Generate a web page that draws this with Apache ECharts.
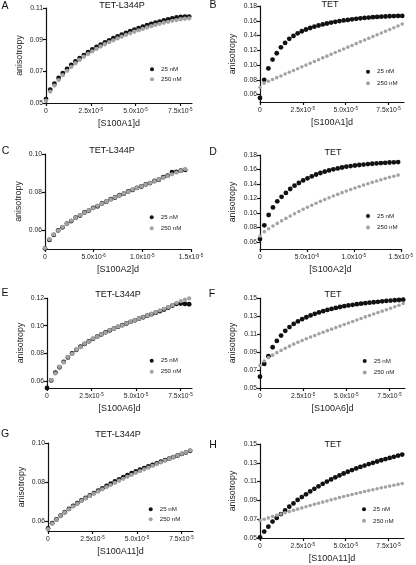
<!DOCTYPE html>
<html><head><meta charset="utf-8">
<script src="https://cdn.jsdelivr.net/npm/echarts@6/dist/echarts.min.js"></script>
<style>html,body{margin:0;padding:0;background:#fff}#c{width:416px;height:565px}</style>
</head><body><div id="c"></div>
<script>
// ---------- DATA (x in units of 1e-5 M) ----------
const xLeft = [0,0.235,0.47,0.705,0.94,1.175,1.41,1.645,1.88,2.115,2.35,2.585,2.82,3.055,3.29,3.525,3.76,3.995,4.23,4.465,4.7,4.935,5.17,5.405,5.64,5.875,6.11,6.345,6.58,6.815,7.05,7.285,7.52,7.755,7.99];
const xRight = [0,0.244,0.488,0.732,0.976,1.22,1.464,1.708,1.952,2.196,2.44,2.684,2.928,3.172,3.416,3.66,3.904,4.148,4.392,4.636,4.88,5.124,5.368,5.612,5.856,6.1,6.344,6.588,6.832,7.076,7.32,7.564,7.808,8.052,8.296];
const xC = [0,0.045,0.09,0.135,0.18,0.225,0.27,0.315,0.36,0.405,0.45,0.495,0.54,0.585,0.63,0.675,0.72,0.765,0.81,0.855,0.9,0.945,0.99,1.035,1.08,1.125,1.17,1.215,1.26,1.305,1.35,1.395,1.44];
const xD = [0,0.046,0.092,0.138,0.184,0.23,0.276,0.322,0.368,0.414,0.46,0.506,0.552,0.598,0.644,0.69,0.736,0.782,0.828,0.874,0.92,0.966,1.012,1.058,1.104,1.15,1.196,1.242,1.288,1.334,1.38,1.426,1.472];

const a25 = [0.0525,0.0585,0.0622,0.0658,0.0688,0.0715,0.0740,0.0763,0.0784,0.0803,0.0821,0.0838,0.0854,0.0869,0.0883,0.0896,0.0909,0.0921,0.0932,0.0943,0.0954,0.0964,0.0973,0.0982,0.0991,0.0999,0.1007,0.1014,0.1021,0.1028,0.1034,0.1040,0.1044,0.1046,0.1046];
const a250 = [0.0515,0.0572,0.0610,0.0645,0.0676,0.0703,0.0728,0.0751,0.0772,0.0792,0.0810,0.0826,0.0842,0.0857,0.0871,0.0884,0.0896,0.0908,0.0919,0.0930,0.0940,0.0950,0.0959,0.0968,0.0977,0.0985,0.0993,0.1000,0.1007,0.1013,0.1019,0.1024,0.1029,0.1032,0.1034];
const b25 = [0.0555,0.0800,0.0955,0.1075,0.1160,0.1240,0.1300,0.1355,0.1395,0.1430,0.1458,0.1482,0.1502,0.1520,0.1536,0.1550,0.1563,0.1575,0.1586,0.1596,0.1605,0.1612,0.1620,0.1627,0.1633,0.1638,0.1643,0.1648,0.1652,0.1655,0.1658,0.1661,0.1663,0.1665,0.1666];
const b250 = [0.0700,0.0755,0.0781,0.0804,0.0830,0.0853,0.0879,0.0902,0.0927,0.0951,0.0976,0.1000,0.1024,0.1049,0.1073,0.1098,0.1121,0.1146,0.1170,0.1194,0.1218,0.1243,0.1266,0.1291,0.1315,0.1339,0.1363,0.1387,0.1411,0.1434,0.1458,0.1482,0.1506,0.1530,0.1555];
const c25 = [0.0503,0.0548,0.0574,0.0598,0.0614,0.0634,0.0647,0.0665,0.0676,0.0692,0.0702,0.0716,0.0725,0.0740,0.0749,0.0762,0.0771,0.0783,0.0791,0.0803,0.0811,0.0822,0.0829,0.0840,0.0847,0.0858,0.0865,0.0878,0.0886,0.0905,0.0906,0.0912,0.0916];
const c250 = [0.0505,0.0551,0.0576,0.0597,0.0616,0.0633,0.0649,0.0664,0.0678,0.0691,0.0703,0.0715,0.0727,0.0739,0.0750,0.0761,0.0772,0.0782,0.0792,0.0802,0.0812,0.0821,0.0830,0.0839,0.0848,0.0857,0.0866,0.0875,0.0884,0.0893,0.0902,0.0911,0.0920];
const d25 = [0.0637,0.0828,0.0970,0.1075,0.1160,0.1222,0.1276,0.1330,0.1376,0.1413,0.1448,0.1478,0.1505,0.1530,0.1551,0.1570,0.1587,0.1602,0.1615,0.1627,0.1638,0.1647,0.1655,0.1662,0.1668,0.1674,0.1679,0.1684,0.1688,0.1692,0.1696,0.1699,0.1702];
const d250 = [0.0680,0.0740,0.0780,0.0818,0.0854,0.0889,0.0923,0.0956,0.0988,0.1019,0.1049,0.1078,0.1106,0.1133,0.1159,0.1184,0.1209,0.1233,0.1256,0.1279,0.1301,0.1323,0.1344,0.1364,0.1384,0.1403,0.1422,0.1440,0.1458,0.1475,0.1492,0.1507,0.1522];
const e25 = [0.0550,0.0605,0.0660,0.0700,0.0739,0.0771,0.0800,0.0825,0.0848,0.0868,0.0887,0.0905,0.0921,0.0937,0.0952,0.0966,0.0979,0.0992,0.1004,0.1016,0.1028,0.1039,0.1050,0.1061,0.1072,0.1083,0.1094,0.1105,0.1117,0.1130,0.1145,0.1158,0.1160,0.1157,0.1155];
const e250 = [0.0548,0.0607,0.0655,0.0702,0.0735,0.0773,0.0797,0.0827,0.0845,0.0870,0.0885,0.0907,0.0919,0.0939,0.0950,0.0968,0.0978,0.0993,0.1003,0.1017,0.1027,0.1040,0.1050,0.1062,0.1073,0.1085,0.1097,0.1110,0.1122,0.1134,0.1148,0.1165,0.1178,0.1188,0.1197];
const f25 = [0.0626,0.0767,0.0854,0.0953,0.1023,0.1082,0.1135,0.1177,0.1212,0.1240,0.1265,0.1286,0.1306,0.1324,0.1340,0.1354,0.1367,0.1379,0.1390,0.1400,0.1409,0.1417,0.1424,0.1431,0.1437,0.1443,0.1448,0.1453,0.1458,0.1463,0.1467,0.1471,0.1475,0.1478,0.1481];
const f250 = [0.0750,0.0800,0.0837,0.0865,0.0893,0.0918,0.0942,0.0965,0.0987,0.1008,0.1028,0.1047,0.1066,0.1084,0.1102,0.1120,0.1137,0.1154,0.1171,0.1188,0.1205,0.1222,0.1239,0.1256,0.1273,0.1290,0.1306,0.1322,0.1338,0.1354,0.1370,0.1386,0.1402,0.1420,0.1440];
const g25 = [0.0563,0.0590,0.0609,0.0628,0.0646,0.0663,0.0678,0.0692,0.0706,0.0719,0.0732,0.0744,0.0756,0.0768,0.0780,0.0792,0.0803,0.0814,0.0825,0.0836,0.0846,0.0855,0.0864,0.0872,0.0880,0.0888,0.0896,0.0904,0.0912,0.0920,0.0928,0.0936,0.0944,0.0952,0.0960];
const g250 = [0.0560,0.0588,0.0608,0.0627,0.0645,0.0661,0.0676,0.0690,0.0704,0.0717,0.0729,0.0741,0.0752,0.0763,0.0774,0.0785,0.0796,0.0807,0.0817,0.0827,0.0837,0.0847,0.0856,0.0865,0.0874,0.0883,0.0892,0.0901,0.0910,0.0919,0.0928,0.0937,0.0945,0.0953,0.0962];
const h25 = [0.0507,0.0568,0.0621,0.0675,0.0714,0.0754,0.0793,0.0833,0.0868,0.0905,0.0935,0.0965,0.0995,0.1023,0.1050,0.1076,0.1100,0.1123,0.1145,0.1166,0.1186,0.1205,0.1223,0.1240,0.1256,0.1271,0.1286,0.1300,0.1314,0.1327,0.1340,0.1352,0.1364,0.1376,0.1388];
const h250 = [0.0686,0.0700,0.0714,0.0728,0.0742,0.0755,0.0768,0.0781,0.0794,0.0807,0.0820,0.0833,0.0846,0.0858,0.0870,0.0882,0.0894,0.0906,0.0918,0.0930,0.0941,0.0952,0.0963,0.0974,0.0984,0.0994,0.1004,0.1014,0.1024,0.1034,0.1043,0.1052,0.1061,0.1070,0.1079];

// tick values and labels
const xTicksLong = [0, 2.5, 5, 7.5];
const xLabelsLong = ['0', '2.5x10|-5', '5.0x10|-5', '7.5x10|-5'];
const xTicksShort = [0, 0.5, 1.0, 1.5];
const xLabelsShort = ['0', '5.0x10|-6', '1.0x10|-5', '1.5x10|-5'];
const yTicksA = [0.05, 0.07, 0.09, 0.11];
const yTicksBD = [0.06, 0.08, 0.10, 0.12, 0.14, 0.16, 0.18];
const yTicksC = [0.06, 0.08, 0.10];
const yTicksE = [0.06, 0.08, 0.10, 0.12];
const yTicksFH = [0.05, 0.07, 0.09, 0.11, 0.13, 0.15];
const yTicksG = [0.06, 0.08, 0.10];
const seriesNames = ['25 nM', '250 nM'];

// ---------- LAYOUT ----------
const FONT = '"Liberation Sans", Arial, Helvetica, sans-serif';
const panels = [
  {L:'A', T:'TET-L344P', xn:'[S100A1]d', x:xLeft, s:[a25,a250], g:{left:46,top:8,width:146,height:95}, y:[0.05,0.11], yt:yTicksA, xm:8.15, xt:xTicksLong, xl:xLabelsLong, lp:[5,6], tp:[122,6], leg:[150,65.3,2], right:false},
  {L:'B', T:'TET', xn:'[S100A1]d', x:xRight, s:[b25,b250], g:{left:260,top:6,width:144,height:96}, y:[0.05,0.18], yt:yTicksBD, xm:8.4, xt:xTicksLong, xl:xLabelsLong, lp:[213,5.5], tp:[330,5], leg:[366,67.7,3.5], right:true},
  {L:'C', T:'TET-L344P', xn:'[S100A2]d', x:xC, s:[c25,c250], g:{left:45,top:154,width:146,height:95}, y:[0.05,0.10], yt:yTicksC, xm:1.5, xt:xTicksShort, xl:xLabelsShort, lp:[5.5,151], tp:[112,151], leg:[149.7,213.3,3], right:false},
  {L:'D', T:'TET', xn:'[S100A2]d', x:xD, s:[d25,d250], g:{left:260,top:155,width:144,height:94}, y:[0.05,0.18], yt:yTicksBD, xm:1.5, xt:xTicksShort, xl:xLabelsShort, lp:[213,152], tp:[333,153], leg:[366,212,3.5], right:true},
  {L:'E', T:'TET-L344P', xn:'[S100A6]d', x:xLeft, s:[e25,e250], g:{left:47,top:298,width:145,height:90}, y:[0.055,0.12], yt:yTicksE, xm:8.15, xt:xTicksLong, xl:xLabelsLong, lp:[5,293], tp:[118,295], leg:[149.7,356.7,3], right:false},
  {L:'F', T:'TET', xn:'[S100A6]d', x:xRight, s:[f25,f250], g:{left:260,top:298,width:145,height:90}, y:[0.05,0.15], yt:yTicksFH, xm:8.4, xt:xTicksLong, xl:xLabelsLong, lp:[212,294], tp:[333,295], leg:[362.7,357,3.5], right:true},
  {L:'G', T:'TET-L344P', xn:'[S100A11]d', x:xLeft, s:[g25,g250], g:{left:48,top:443,width:145,height:88}, y:[0.055,0.10], yt:yTicksG, xm:8.15, xt:xTicksLong, xl:xLabelsLong, lp:[5,434], tp:[118,435], leg:[148.7,505.3,2], right:false},
  {L:'H', T:'TET', xn:'[S100A11]d', x:xRight, s:[h25,h250], g:{left:260,top:444,width:144,height:94}, y:[0.05,0.15], yt:yTicksFH, xm:8.4, xt:xTicksLong, xl:xLabelsLong, lp:[213,445], tp:[333,445], leg:[362,505.3,3.5], right:true}
];

const axisLine = {show:true, onZero:false, lineStyle:{color:'#111', width:1.2}};
const grid = [], xAxis = [], yAxis = [], series = [], legend = [], graphic = [];

panels.forEach((p, i) => {
  grid.push(Object.assign({containLabel:false}, p.g));
  xAxis.push({
    type:'value', gridIndex:i, min:0, max:p.xm,
    name:p.xn, nameLocation:'middle', nameGap:16,
    nameTextStyle:{fontFamily:FONT, fontSize:9, color:'#222'},
    axisLine, splitLine:{show:false},
    axisTick:{show:true, customValues:p.xt, length:3, lineStyle:{color:'#111', width:1.2}},
    axisLabel:{
      customValues:p.xt, margin:4, fontFamily:FONT, color:'#222',
      formatter:(v) => {
        let k = p.xt.findIndex(t => Math.abs(t - v) < 1e-9);
        let s = k >= 0 ? p.xl[k] : '';
        let parts = s.split('|');
        return parts.length > 1 ? '{m|' + parts[0] + '}{s|' + parts[1] + '}' : '{m|' + parts[0] + '}';
      },
      rich:{
        m:{fontFamily:FONT, fontSize:6.8, color:'#222', lineHeight:8},
        s:{fontFamily:FONT, fontSize:4.6, color:'#222', lineHeight:5, verticalAlign:'top'}
      }
    }
  });
  yAxis.push({
    type:'value', gridIndex:i, min:p.y[0], max:p.y[1],
    name:'anisotropy', nameLocation:'middle', nameGap: p.right ? 23 : 21.5, nameRotate:90,
    nameTextStyle:{fontFamily:FONT, fontSize:8.8, color:'#222'},
    axisLine, splitLine:{show:false},
    axisTick:{show:true, customValues:p.yt, length:3, lineStyle:{color:'#111', width:1.2}},
    axisLabel:{customValues:p.yt, margin:3, fontFamily:FONT, fontSize:6.8, color:'#222',
      formatter:(v) => v.toFixed(2)}
  });
  const colors = ['#111111', '#a3a3a3'];
  const sizes = [4.8, p.right ? 3.6 : 4.3];
  p.s.forEach((ys, j) => {
    series.push({
      type:'scatter', name:seriesNames[j], xAxisIndex:i, yAxisIndex:i,
      data: p.x.map((xv, k) => [xv, ys[k]]),
      symbol:'circle', symbolSize:sizes[j],
      itemStyle:{color:colors[j], opacity:1},
      silent:true, animation:false
    });
  });
  legend.push({
    data:seriesNames.map(n => ({name:n, icon:'circle'})),
    left:p.leg[0], top:p.leg[1], orient:'vertical', padding:0,
    itemWidth:4, itemHeight:4, itemGap:p.leg[2], selectedMode:false,
    textStyle:{fontFamily:FONT, fontSize:6.2, color:'#222', lineHeight:8, padding:[0,0,0,2]}
  });
  graphic.push({type:'text', x:p.lp[0], y:p.lp[1], style:{text:p.L, font:'10.5px ' + FONT, fill:'#111', textAlign:'center', textVerticalAlign:'middle'}});
  graphic.push({type:'text', x:p.tp[0], y:p.tp[1], style:{text:p.T, font:'9px ' + FONT, fill:'#111', textAlign:'center', textVerticalAlign:'middle'}});
});

const chart = echarts.init(document.getElementById('c'), null, {renderer:'canvas'});
chart.setOption({animation:false, backgroundColor:'#fff', grid, xAxis, yAxis, series, legend, graphic});
</script></body></html>
